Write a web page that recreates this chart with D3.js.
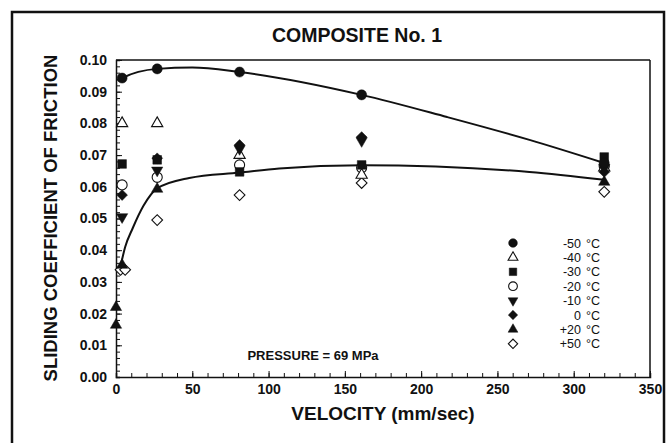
<!DOCTYPE html>
<html><head><meta charset="utf-8">
<script src="https://cdn.jsdelivr.net/npm/d3@7"></script>
<style>
html,body{margin:0;padding:0;background:#fff;}
text{font-family:"Liberation Sans",Arial,Helvetica,sans-serif;fill:#111;}
</style></head>
<body><svg id="c" width="670" height="443"></svg>
<script>
// ---- data ----
const seriesLabels = ["-50", "-40", "-30", "-20", "-10", "0", "+20", "+50"];
const seriesSymbols = ["circle", "triangle", "square", "circle", "triangleDown", "diamond", "triangle", "diamond"];
const seriesFilled = [true, false, true, false, true, true, true, false];
const s_m50 = [[4,0.0943],[27,0.0972],[81,0.0962],[161,0.089],[320,0.0675]];
const s_m40 = [[4,0.080],[27,0.080],[81,0.070],[161,0.0637],[320,0.066]];
const s_m30 = [[4,0.0672],[27,0.0685],[81,0.0647],[161,0.0669],[320,0.0694]];
const s_m20 = [[4,0.0606],[27,0.063],[81,0.0669],[161,0.066],[320,0.0665]];
const s_m10 = [[4,0.0505],[27,0.0652],[81,0.072],[161,0.0745],[320,0.066]];
const s_0   = [[4,0.0574],[27,0.069],[81,0.0732],[161,0.0757],[320,0.0647]];
const s_p20 = [[0,0.0164],[0,0.022],[4,0.0353],[27,0.0593],[320,0.0615]];
const s_p50 = [[3,0.0338],[6,0.0338],[27,0.0495],[81,0.0574],[161,0.0612],[320,0.0584]];
const seriesData = [s_m50, s_m40, s_m30, s_m20, s_m10, s_0, s_p20, s_p50];
const upperCurve = [[1,0.0935],[4,0.0943],[27,0.0972],[50,0.0976],[81,0.0962],[161,0.089],[217,0.082],[271,0.0748],[320,0.0675]];
const lowerCurve = [[3,0.035],[6,0.041],[11,0.047],[18,0.054],[27,0.0595],[48,0.0628],[81,0.0645],[107,0.0658],[161,0.0668],[271,0.0647],[320,0.0622]];
const xTicks = [0,50,100,150,200,250,300,350];
const yTicks = [0,0.01,0.02,0.03,0.04,0.05,0.06,0.07,0.08,0.09,0.10];

// ---- drawing ----
const svg = d3.select("#c");
const ink = "#111";
const x = d3.scaleLinear().domain([0,350]).range([116,650]);
const y = d3.scaleLinear().domain([0,0.1]).range([377,60]);

// outer frame
svg.append("rect").attr("x",12).attr("y",12).attr("width",652).attr("height",440)
  .attr("fill","none").attr("stroke",ink).attr("stroke-width",2.5);

// title
svg.append("text").attr("x",357).attr("y",42).attr("text-anchor","middle")
  .style("font-size","19.5px").style("font-weight","bold").text("COMPOSITE No. 1");

// plot frame top/right
svg.append("line").attr("x1",x(0)).attr("x2",x(350)).attr("y1",y(0.1)).attr("y2",y(0.1)).attr("stroke",ink).attr("stroke-width",1.5);
svg.append("line").attr("x1",x(350)).attr("x2",x(350)).attr("y1",y(0.1)).attr("y2",y(0)).attr("stroke",ink).attr("stroke-width",1.5);

// minor ticks
const gx = svg.append("g").attr("transform",`translate(0,${y(0)})`)
  .call(d3.axisBottom(x).tickValues(d3.range(0,351,10)).tickSize(-4).tickFormat(""));
const gy = svg.append("g").attr("transform",`translate(${x(0)},0)`)
  .call(d3.axisLeft(y).tickValues(d3.range(0,0.1001,0.002)).tickSize(-4).tickFormat(""));
[gx,gy].forEach(g=>{g.select(".domain").attr("stroke",ink).attr("stroke-width",1.5);g.selectAll(".tick line").attr("stroke",ink);});

// major ticks with labels
const gx2 = svg.append("g").attr("transform",`translate(0,${y(0)})`)
  .call(d3.axisBottom(x).tickValues(xTicks).tickSize(-6).tickPadding(7).tickFormat(d3.format("d")));
const gy2 = svg.append("g").attr("transform",`translate(${x(0)},0)`)
  .call(d3.axisLeft(y).tickValues(yTicks).tickSize(-6).tickPadding(9).tickFormat(d3.format(".2f")));
[gx2,gy2].forEach(g=>{g.select(".domain").remove();g.selectAll(".tick line").attr("stroke",ink);
  g.selectAll(".tick text").style("font-size","14px").style("font-weight","bold").attr("fill",ink).style("font-family","'Liberation Sans',Arial,sans-serif");});

// axis titles
svg.append("text").attr("x",383).attr("y",420).attr("text-anchor","middle")
  .style("font-size","19px").style("font-weight","bold").text("VELOCITY (mm/sec)");
svg.append("text").attr("transform","translate(57,218) rotate(-90)").attr("text-anchor","middle")
  .style("font-size","18.5px").style("font-weight","bold").text("SLIDING COEFFICIENT OF FRICTION");

// curves
const line = d3.line().x(d=>x(d[0])).y(d=>y(d[1])).curve(d3.curveMonotoneX);
[upperCurve, lowerCurve].forEach(c=>{
  svg.append("path").attr("d",line(c)).attr("fill","none").attr("stroke",ink).attr("stroke-width",2);
});

// markers
const symMap = {circle:d3.symbolCircle, triangle:d3.symbolTriangle, square:d3.symbolSquare, diamond:d3.symbolSquare, triangleDown:d3.symbolTriangle};
const symSize = {circle:80, triangle:55, square:75, diamond:58, triangleDown:55};
const symRot = {circle:"", triangle:"", square:"", diamond:" rotate(45)", triangleDown:" rotate(180)"};
function drawSym(g, i, cx, cy, scale){
  const k = seriesSymbols[i];
  return g.append("path")
    .attr("d", d3.symbol().type(symMap[k]).size(symSize[k]*scale)())
    .attr("transform", `translate(${cx},${cy})${symRot[k]}`)
    .attr("fill", seriesFilled[i]?ink:"#fff")
    .attr("stroke", ink).attr("stroke-width", seriesFilled[i]?0.5:1.1);
}
const gm = svg.append("g");
const order = [7,3,1,6,4,5,2,0];
order.forEach(i=>{
  seriesData[i].forEach(d=>drawSym(gm, i, x(d[0]), y(d[1]), 1));
});

// legend
const lg = svg.append("g");
seriesLabels.forEach((lab,i)=>{
  const cy = 243 + i*14.4;
  drawSym(lg, i, 513, cy, 0.75);
  const t = lg.append("text").attr("y",cy+4.5).style("font-size","12.5px");
  t.append("tspan").attr("x",581).attr("text-anchor","end").text(lab);
  t.append("tspan").attr("x",586).attr("text-anchor","start").text("°C");
});

// annotation
svg.append("text").attr("x",313).attr("y",360).attr("text-anchor","middle")
  .style("font-size","13px").style("font-weight","bold").text("PRESSURE = 69 MPa");
</script></body></html>
